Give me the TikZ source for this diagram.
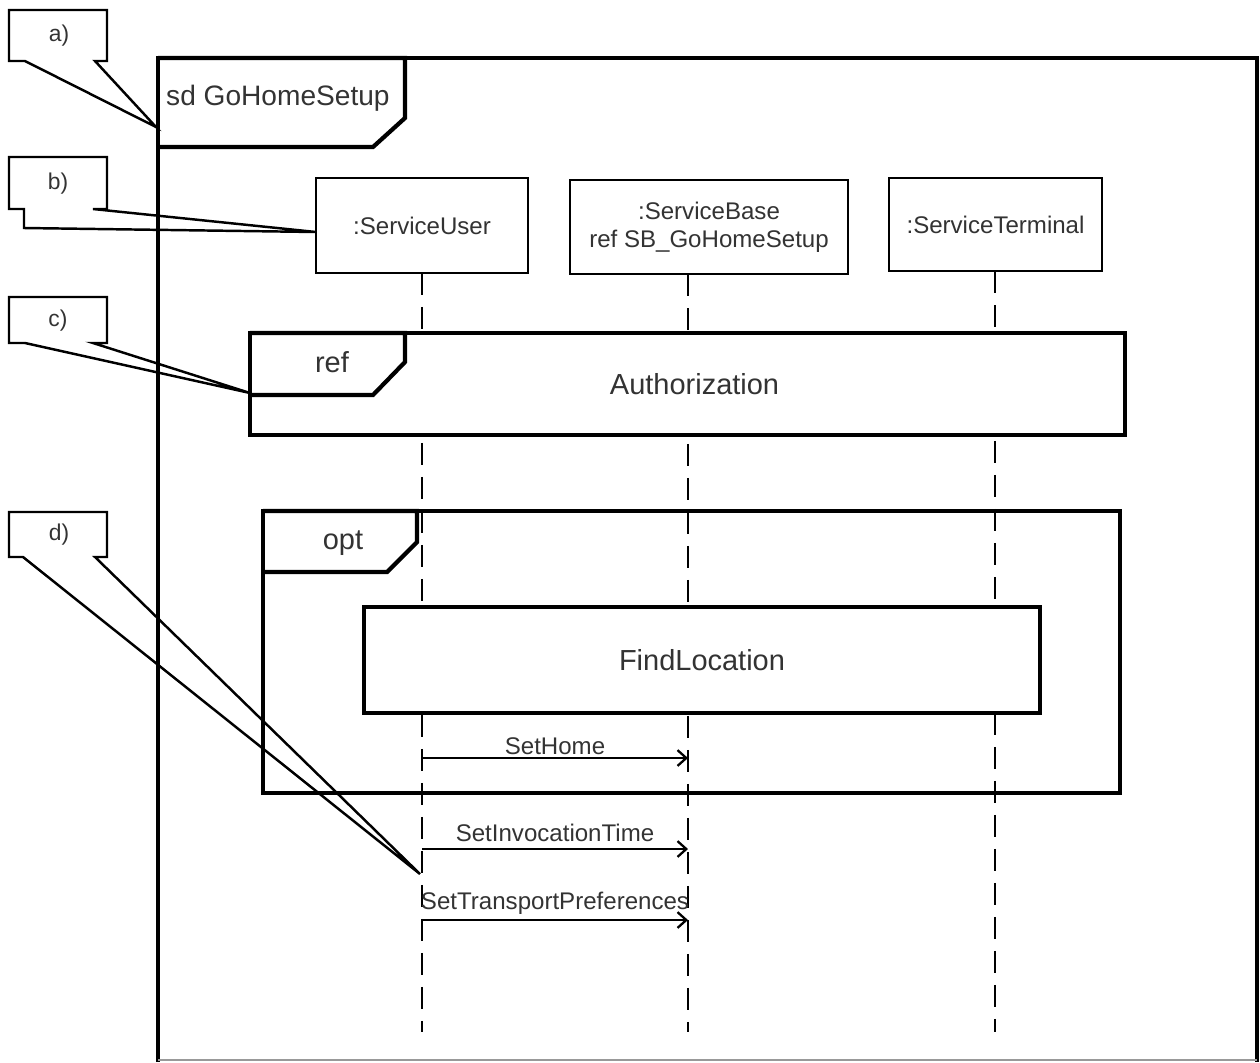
\documentclass[tikz,border=0pt]{standalone}
\usepackage{fontspec}
\setmainfont{Liberation Sans}
\usetikzlibrary{arrows.meta}

\begin{document}
\begin{tikzpicture}[x=0.02cm,y=-0.02cm,
        frame/.style={draw,line width=2.4pt,outer sep=0pt},
        lifeline/.style={draw,line width=1.5pt,dash pattern=on 0.44cm off 0.24cm},
        msg/.style={draw,line width=1.3pt,-{Straight Barb[length=5pt,width=9pt]}},
        callout/.style={draw,line width=1.4pt,line join=miter},
        every node/.style={text=black!80}]
    \useasboundingbox (0,0) rectangle (1260,1062);

    % diagram frame
    \draw[frame] (158,1062) -- (158,58) -- (1257,58) -- (1257,1062);
    \draw[black!40,line width=0.6pt] (158,1060) -- (1257,1060);
    \draw[frame] (158,58) -- (405,58) -- (405,118) -- (373,147) -- (158,147);
    \node[anchor=west,font=\fontsize{16}{18}\selectfont] (sd) at (160,98) {sd GoHomeSetup};

    % lifelines
    \coordinate (bottom) at (0,1032);
    \coordinate (b0) at (688,274);
    \coordinate (t0) at (995,271);
    \begin{scope}[every node/.style={draw,fill=white,line width=1.6pt,align=center,
            outer sep=0pt,text=black!80,font=\fontsize{13.7}{16}\selectfont}]
        \node[minimum width=4.24cm,minimum height=1.9cm] (user) at (422,225.5) {:ServiceUser};
        \node[minimum width=5.56cm,minimum height=1.88cm] (base) at (709,227) {:ServiceBase\\ref SB\_GoHomeSetup};
        \node[minimum width=4.26cm,minimum height=1.86cm] (term) at (995.5,224.5) {:ServiceTerminal};
    \end{scope}
    \path
        (user.south) edge[lifeline] (user.south |- bottom)
        (b0) edge[lifeline] (b0 |- bottom)
        (t0) edge[lifeline] (t0 |- bottom);

    % ref Authorization
    \node[frame,fill=white,minimum width=17.5cm,minimum height=2.04cm,
        font=\fontsize{16.5}{18}\selectfont] (auth) at (687.5,384) {\hspace*{8pt}Authorization};
    \draw[frame] (auth.north west) -- (405,333) -- (405,362) -- (373,395) -- (250,395);
    \node[font=\fontsize{16.5}{18}\selectfont] (reftag) at (332,362) {ref};

    % opt fragment
    \node[frame,minimum width=17.14cm,minimum height=5.64cm] (opt) at (691.5,652) {};
    \draw[frame] (opt.north west) -- (417,511) -- (417,542) -- (387,572) -- (263,572);
    \node[font=\fontsize{16.5}{18}\selectfont] (opttag) at (343,543) {opt};
    \node[frame,fill=white,minimum width=13.52cm,minimum height=2.12cm,
        font=\fontsize{16.5}{18}\selectfont] (find) at (702,660) {FindLocation};

    % messages
    \coordinate (u1) at (422,758);
    \coordinate (b1) at (688,758);
    \coordinate (u2) at (422,849);
    \coordinate (b2) at (688,849);
    \coordinate (u3) at (422,920);
    \coordinate (b3) at (688,920);
    \begin{scope}[every node/.style={above,inner sep=1pt,text=black!80,
            font=\fontsize{13.7}{16}\selectfont}]
        \path
            (u1) edge[msg] node {SetHome} (b1)
            (u2) edge[msg] node[yshift=2.5pt] {SetInvocationTime} (b2)
            (u3) edge[msg] node[yshift=1.4pt] {SetTransportPreferences} (b3);
    \end{scope}

    % callouts
    \coordinate (tipA) at (156,127);
    \coordinate (tipB) at (316,232);
    \coordinate (tipC) at (250,393);
    \coordinate (tipD) at (420,874);
    \begin{scope}[every node/.style={text=black!80,font=\fontsize{13}{15}\selectfont}]
        \node (la) at (59,36) {a)};
        \node (lb) at (58,184) {b)};
        \node (lc) at (58,321) {c)};
        \node (ld) at (59,535) {d)};
    \end{scope}
    \draw[callout] (9,10) -- (107,10) -- (107,61) -- (95,61) -- (tipA) -- (25,61) -- (9,61) -- cycle;
    \draw[callout] (9,157) -- (107,157) -- (107,209) -- (93,209) -- (tipB) -- (24,228) -- (24,209) -- (9,209) -- cycle;
    \draw[callout] (9,297) -- (107,297) -- (107,343) -- (93,343) -- (tipC) -- (25,343) -- (9,343) -- cycle;
    \draw[callout] (9,512) -- (107,512) -- (107,557) -- (95,557) -- (tipD) -- (23,557) -- (9,557) -- cycle;
\end{tikzpicture}
\end{document}
